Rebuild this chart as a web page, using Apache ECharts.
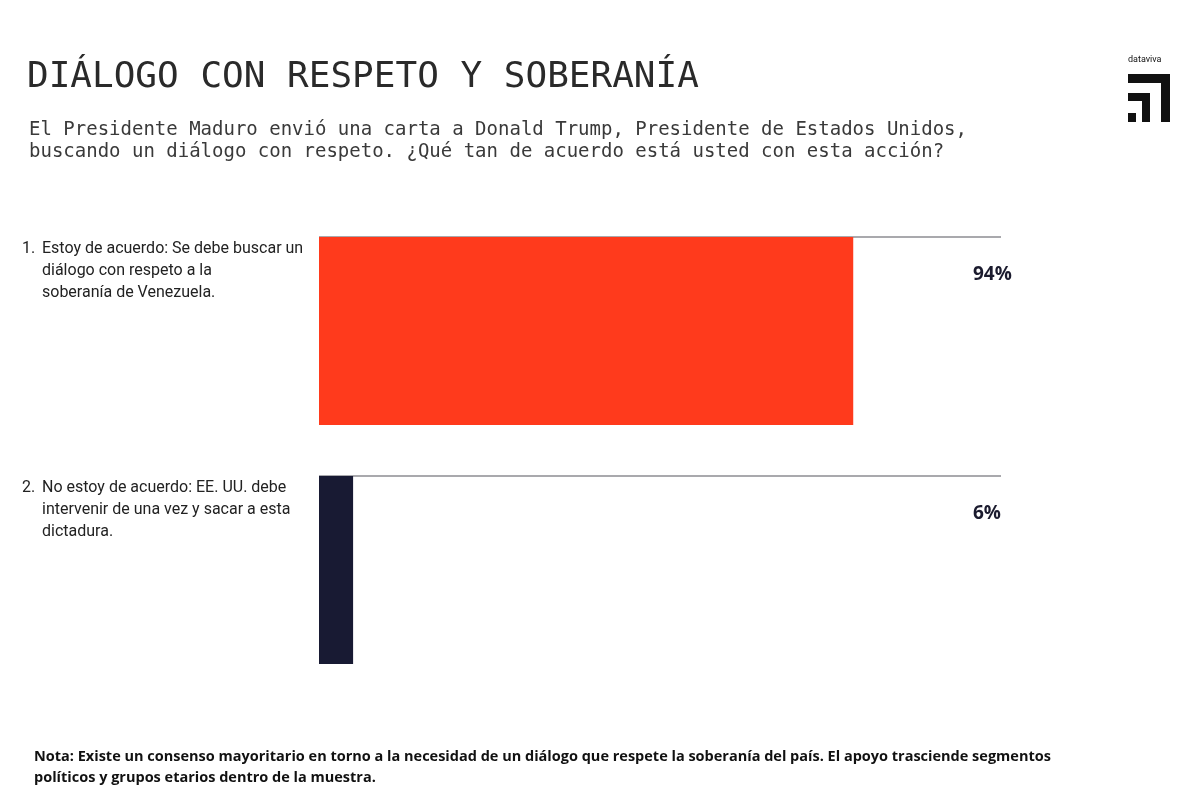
<!DOCTYPE html>
<html>
<head>
<meta charset="utf-8">
<script src="https://cdn.jsdelivr.net/npm/echarts@6/dist/echarts.min.js"></script>
<style>
  html, body { margin: 0; padding: 0; background: #fff; }
  #chart { width: 1200px; height: 800px; }
</style>
</head>
<body>
<div id="chart"></div>
<script>
//--------------------- Data ---------------------------//
const categories = [
  'Estoy de acuerdo: Se debe buscar un\ndiálogo con respeto a la\nsoberanía de Venezuela.',
  'No estoy de acuerdo: EE. UU. debe\nintervenir de una vez y sacar a esta\ndictadura.'
];
const numbers = ['1.', '2.'];
const values = [94, 6];
const barColors = ['#ff3a1c', '#181a33'];
const xMax = 120;

const title = 'DIÁLOGO CON RESPETO Y SOBERANÍA';
const subtitle = 'El Presidente Maduro envió una carta a Donald Trump, Presidente de Estados Unidos,\nbuscando un diálogo con respeto. ¿Qué tan de acuerdo está usted con esta acción?';
const note = 'Nota: Existe un consenso mayoritario en torno a la necesidad de un diálogo que respete la soberanía del país. El apoyo trasciende segmentos\npolíticos y grupos etarios dentro de la muestra.';

//--------------------- Chart ---------------------------//
const chart = echarts.init(document.getElementById('chart'));

// draw each row: grey top rule, bar, value and the numbered label
function renderRow(params, api) {
  const idx = api.value(0);
  const val = api.value(1);
  const start = api.coord([0, idx]);
  const end = api.coord([val, idx]);
  const lineEnd = api.coord([xMax, idx]);
  const bandH = api.size([0, 1])[1];
  const barH = bandH * 0.787;
  const top = start[1] - barH / 2;
  return {
    type: 'group',
    children: [
      {
        type: 'line',
        shape: { x1: start[0], y1: top, x2: lineEnd[0], y2: top },
        style: { stroke: '#a9a9ad', lineWidth: 2 }
      },
      {
        type: 'rect',
        shape: { x: start[0], y: top, width: end[0] - start[0], height: barH },
        style: { fill: barColors[idx] }
      },
      {
        type: 'text',
        x: lineEnd[0] - 28, y: top + 38,
        style: {
          text: val + '%', fill: '#1b1b2e', font: 'bold 19px "Open Sans"',
          align: 'left', verticalAlign: 'middle'
        }
      },
      {
        type: 'text',
        x: 22, y: top + 1,
        style: {
          text: numbers[idx], fill: '#222', font: '16px Roboto',
          align: 'left', verticalAlign: 'top', lineHeight: 22
        }
      },
      {
        type: 'text',
        x: 42, y: top + 1,
        style: {
          text: categories[idx], fill: '#222', font: '16px Roboto',
          align: 'left', verticalAlign: 'top', lineHeight: 22
        }
      }
    ]
  };
}

const option = {
  backgroundColor: '#fff',
  animation: false,
  title: [
    {
      text: title, left: 27, top: 60, padding: 0,
      textStyle: { fontFamily: 'DejaVu Sans Mono', fontSize: 36, fontWeight: 'normal', color: '#2a2a2a' }
    },
    {
      text: subtitle, left: 29, top: 119, padding: 0,
      textStyle: { fontFamily: 'DejaVu Sans Mono', fontSize: 19, fontWeight: 'normal', color: '#3a3a3a', lineHeight: 22 }
    },
    {
      text: note, left: 34, top: 746, padding: 0,
      textStyle: { fontFamily: 'Open Sans', fontSize: 14.5, fontWeight: 'bold', color: '#111', lineHeight: 21 }
    }
  ],
  grid: { left: 319, right: 199, top: 211.5, bottom: 110.5 },
  xAxis: { type: 'value', min: 0, max: xMax, show: false },
  yAxis: {
    type: 'category', data: categories, inverse: true, show: false
  },
  series: [
    {
      type: 'custom',
      renderItem: renderRow,
      encode: { x: 1, y: 0 },
      data: values.map((v, i) => [i, v])
    }
  ],
  graphic: [
    // dataviva logo
    { type: 'text', left: 1128, top: 55, style: { text: 'dataviva', font: '9px Roboto', fill: '#111' } },
    { type: 'rect', shape: { x: 1128, y: 74, width: 42, height: 9 }, style: { fill: '#111' } },
    { type: 'rect', shape: { x: 1161, y: 74, width: 9, height: 48 }, style: { fill: '#111' } },
    { type: 'rect', shape: { x: 1128, y: 93, width: 22, height: 8 }, style: { fill: '#111' } },
    { type: 'rect', shape: { x: 1142, y: 93, width: 8, height: 29 }, style: { fill: '#111' } },
    { type: 'rect', shape: { x: 1128, y: 113, width: 8, height: 9 }, style: { fill: '#111' } }
  ]
};

chart.setOption(option);
</script>
</body>
</html>
